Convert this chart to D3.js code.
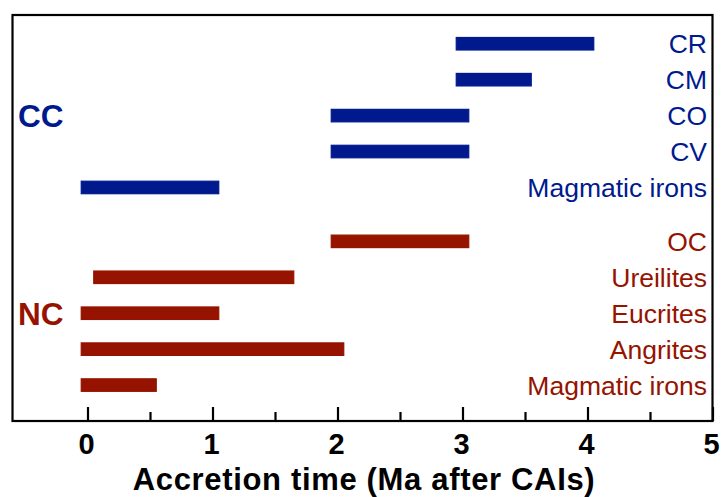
<!DOCTYPE html>
<html>
<head>
<meta charset="utf-8">
<script src="https://cdn.jsdelivr.net/npm/d3@7"></script>
<style>
  html, body { margin: 0; padding: 0; background: #fff; }
  svg { display: block; font-family: "Liberation Sans", Arial, Helvetica, sans-serif; }
</style>
</head>
<body>
<svg id="chart" width="722" height="497"></svg>
<script>
// ---- data ----
const groups = ["CC", "NC"];
const ccLabels = ["CR", "CM", "CO", "CV", "Magmatic irons"];
const ccStart  = [2.95, 2.95, 1.95, 1.95, -0.05];
const ccEnd    = [4.05, 3.55, 3.05, 3.05, 1.05];
const ncLabels = ["OC", "Ureilites", "Eucrites", "Angrites", "Magmatic irons"];
const ncStart  = [1.95, 0.05, -0.05, -0.05, -0.05];
const ncEnd    = [3.05, 1.65, 1.05, 2.05, 0.55];
const xTicks = [0, 1, 2, 3, 4, 5];
const xMinorTicks = [0.5, 1.5, 2.5, 3.5, 4.5];
const xTitle = "Accretion time (Ma after CAIs)";

const colors = { CC: "#001a8e", NC: "#961300" };

// build rows: index within plot (group gap of half a row)
const rows = [];
const groupData = [
  { name: "CC", labels: ccLabels, start: ccStart, end: ccEnd },
  { name: "NC", labels: ncLabels, start: ncStart, end: ncEnd }
];
let idx = 0;
groupData.forEach((g, gi) => {
  if (gi > 0) idx += 0.5;
  g.mid = idx + (g.labels.length - 1) / 2;
  g.labels.forEach((l, i) => {
    rows.push({ group: g.name, label: l, start: g.start[i], end: g.end[i], pos: idx });
    idx += 1;
  });
});

// ---- layout ----
const svg = d3.select("#chart");
const pLeft = 12.5, pRight = 712.5, pTop = 15, pBottom = 421;

const x = d3.scaleLinear().domain([-0.6, 5]).range([pLeft, pRight]);
const y = d3.scaleLinear().domain([-0.8, 10.5]).range([pTop, pBottom]);
const barH = 12.5;

// frame
svg.append("rect")
  .attr("x", pLeft).attr("y", pTop)
  .attr("width", pRight - pLeft).attr("height", pBottom - pTop)
  .attr("fill", "none").attr("stroke", "#000").attr("stroke-width", 2.2);

// bars
svg.append("g").selectAll("rect").data(rows).join("rect")
  .attr("x", d => x(d.start))
  .attr("width", d => x(d.end) - x(d.start))
  .attr("y", d => y(d.pos) - barH / 2)
  .attr("height", barH)
  .attr("fill", d => colors[d.group])
  .attr("stroke", d => colors[d.group])
  .attr("stroke-width", 1.2);

// row labels
svg.append("g").selectAll("text").data(rows).join("text")
  .attr("x", 707)
  .attr("y", d => y(d.pos) + 9.5)
  .attr("text-anchor", "end")
  .attr("font-size", 26.5)
  .attr("fill", d => colors[d.group])
  .text(d => d.label);

// group labels
svg.append("g").selectAll("text").data(groupData).join("text")
  .attr("x", 18)
  .attr("y", d => y(d.mid) + 11.5)
  .attr("font-size", 31.5)
  .attr("font-weight", "bold")
  .attr("fill", d => colors[d.name])
  .text(d => d.name);

// x axis: inward ticks
const axisG = svg.append("g").attr("transform", `translate(0,${pBottom})`);
axisG.call(d3.axisTop(x).tickValues(xTicks).tickSize(14).tickFormat(""))
  .call(g => g.select(".domain").remove())
  .call(g => g.selectAll("line").attr("stroke-width", 2.2));
const minorG = svg.append("g").attr("transform", `translate(0,${pBottom})`);
minorG.call(d3.axisTop(x).tickValues(xMinorTicks).tickSize(9).tickFormat(""))
  .call(g => g.select(".domain").remove())
  .call(g => g.selectAll("line").attr("stroke-width", 2.2));

// tick labels
svg.append("g").selectAll("text").data(xTicks).join("text")
  .attr("x", d => x(d) - 1)
  .attr("y", 454)
  .attr("text-anchor", "middle")
  .attr("font-size", 29)
  .attr("font-weight", "bold")
  .text(d => d);

// axis title
const title = svg.append("text")
  .attr("x", 364)
  .attr("y", 490)
  .attr("text-anchor", "middle")
  .attr("font-size", 31)
  .attr("font-weight", "bold")
  .text(xTitle);
const tw = title.node().getComputedTextLength();
const target = 462;
title.attr("letter-spacing", (target - tw) / (xTitle.length - 1));
</script>
</body>
</html>
